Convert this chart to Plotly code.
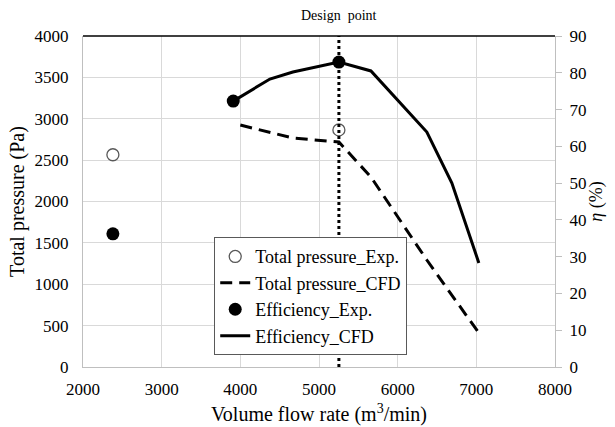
import plotly.graph_objects as go

# Experimental data
exp_p_x = [2380, 5253]
exp_p_y = [2565, 2865]
exp_eff_x = [2380, 3910, 5253]
exp_eff_y = [36.2, 72.3, 82.9]

# CFD data
cfd_p_x = [4000, 4668, 5253, 5660, 6371, 7032]
cfd_p_y = [2924, 2767, 2719, 2296, 1293, 411]
cfd_eff_x = [3910, 4376, 4668, 5253, 5660, 6371, 6689, 7032]
cfd_eff_y = [72.3, 78.3, 80.2, 82.9, 80.5, 63.9, 50.0, 28.3]

design_x = 5253

FONT = "Liberation Serif"
GRID = "#d9d9d9"
AXIS = "#bfbfbf"
TICKFONT = dict(family=FONT, size=17, color="black")

fig = go.Figure()
fig.add_trace(go.Scatter(x=exp_p_x, y=exp_p_y, mode="markers", name="Total pressure_Exp.",
                         marker=dict(symbol="circle-open", size=12, color="#595959", line=dict(width=1.3))))
fig.add_trace(go.Scatter(x=cfd_p_x, y=cfd_p_y, mode="lines", name="Total pressure_CFD",
                         line=dict(color="black", width=3, dash="12px,7px")))
fig.add_trace(go.Scatter(x=exp_eff_x, y=exp_eff_y, mode="markers", name="Efficiency_Exp.", yaxis="y2",
                         marker=dict(symbol="circle", size=13, color="black")))
fig.add_trace(go.Scatter(x=cfd_eff_x, y=cfd_eff_y, mode="lines", name="Efficiency_CFD", yaxis="y2",
                         line=dict(color="black", width=3)))

fig.add_shape(type="line", xref="x", yref="paper", x0=design_x, x1=design_x, y0=0, y1=1,
              line=dict(color="black", width=3, dash="dot"), layer="above")
fig.add_shape(type="line", xref="paper", yref="paper", x0=0, x1=1, y0=1, y1=1,
              line=dict(color="black", width=1.5))
fig.add_annotation(x=design_x, xref="x", y=1, yref="paper", yshift=30, text="Design  point",
                   showarrow=False, font=dict(family=FONT, size=14, color="black"))

fig.update_layout(
    width=615, height=427,
    margin=dict(l=83, r=60, t=36, b=60),
    paper_bgcolor="white", plot_bgcolor="white",
    font=dict(family=FONT, color="black"),
    showlegend=True,
    legend=dict(x=0.278, y=0.392, xanchor="left", yanchor="top",
                bgcolor="white", bordercolor="#595959", borderwidth=1,
                font=dict(family=FONT, size=18, color="black"),
                tracegroupgap=0, itemwidth=30),
    xaxis=dict(range=[2000, 8000], dtick=1000, tick0=2000, showgrid=True, gridcolor=GRID,
               showline=True, linecolor=AXIS, ticks="", zeroline=False,
               tickfont=TICKFONT, ticklabelstandoff=7, automargin=False,
               title=dict(text="Volume flow rate (m<sup>3</sup>/min)", font=dict(family=FONT, size=20, color="black"),
                          standoff=8)),
    yaxis=dict(range=[0, 4000], dtick=500, showgrid=True, gridcolor=GRID,
               showline=True, linecolor=AXIS, ticks="", zeroline=False,
               tickfont=TICKFONT, ticklabelstandoff=10, automargin=False,
               title=dict(text="Total pressure (Pa)", font=dict(family=FONT, size=20, color="black"),
                          standoff=4)),
    yaxis2=dict(range=[0, 90], dtick=10, overlaying="y", side="right", showgrid=False,
                showline=True, linecolor=AXIS, ticks="outside", ticklen=6, tickcolor=AXIS,
                zeroline=False, tickfont=TICKFONT, ticklabelstandoff=4, automargin=False,
                title=dict(text="<i>η</i> (%)", font=dict(family=FONT, size=18, color="black"),
                           standoff=0)),
)

fig.write_html("out.html", config={"displayModeBar": False},
               post_script="document.body.style.margin='0';document.body.style.padding='0';")
